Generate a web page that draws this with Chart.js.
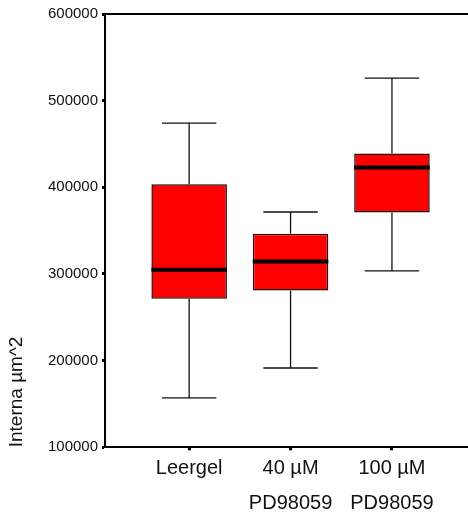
<!DOCTYPE html>
<html>
<head>
<meta charset="utf-8">
<title>Interna</title>
<script src="https://cdn.jsdelivr.net/npm/chart.js@4/dist/chart.umd.min.js"></script>
<style>
  body { margin: 0; background: #fff; }
  #wrap { width: 468px; height: 521px; }
</style>
</head>
<body>
<div id="wrap"><canvas id="boxChart"></canvas></div>
<script>
// groups on the x axis (second line = drug name)
const groups = ['Leergel', ['40 µM', 'PD98059'], ['100 µM', 'PD98059']];
const positions = [1, 2, 3];

// box plot statistics per group
const whiskerLow = [157000, 191500, 303500];
const q1 = [271500, 281000, 371000];
const median = [305000, 314500, 423000];
const q3 = [403500, 346500, 439000];
const whiskerHigh = [474000, 371500, 526000];

const yTicks = [100000, 200000, 300000, 400000, 500000, 600000];

const fontFamily = '"Liberation Sans", Arial, Helvetica, sans-serif';

// whiskers behind the boxes, median bars on top
const boxExtras = {
  id: 'boxExtras',
  beforeDatasetsDraw(chart) {
    const ctx = chart.ctx;
    const y = chart.scales.y;
    const bars = chart.getDatasetMeta(0).data;
    ctx.save();
    ctx.strokeStyle = '#111';
    ctx.lineWidth = 1.3;
    bars.forEach((bar, i) => {
      const cx = bar.x;
      const cap = bar.width * 0.36;
      const top = y.getPixelForValue(whiskerHigh[i]);
      const bot = y.getPixelForValue(whiskerLow[i]);
      ctx.beginPath();
      ctx.moveTo(cx, y.getPixelForValue(q3[i]));
      ctx.lineTo(cx, top);
      ctx.moveTo(cx - cap, top);
      ctx.lineTo(cx + cap, top);
      ctx.moveTo(cx, y.getPixelForValue(q1[i]));
      ctx.lineTo(cx, bot);
      ctx.moveTo(cx - cap, bot);
      ctx.lineTo(cx + cap, bot);
      ctx.stroke();
    });
    ctx.restore();
  },
  afterDatasetsDraw(chart) {
    const ctx = chart.ctx;
    const y = chart.scales.y;
    const bars = chart.getDatasetMeta(0).data;
    ctx.save();
    ctx.strokeStyle = '#000';
    ctx.lineWidth = 4;
    bars.forEach((bar, i) => {
      const m = y.getPixelForValue(median[i]);
      ctx.beginPath();
      ctx.moveTo(bar.x - bar.width / 2, m);
      ctx.lineTo(bar.x + bar.width / 2, m);
      ctx.stroke();
    });
    ctx.restore();
  }
};

const boxData = positions.map((p, i) => ({ x: p, y: [q1[i], q3[i]] }));

new Chart(document.getElementById('boxChart'), {
  type: 'bar',
  data: {
    datasets: [{
      data: boxData,
      backgroundColor: '#ff0000',
      borderColor: '#2a0000',
      borderWidth: 1.5,
      borderSkipped: false,
      barPercentage: 0.745,
      categoryPercentage: 1
    }]
  },
  options: {
    responsive: true,
    maintainAspectRatio: false,
    animation: false,
    layout: { padding: 0 },
    plugins: { legend: { display: false }, tooltip: { enabled: false } },
    scales: {
      x: {
        type: 'linear',
        position: 'bottom',
        min: 0.17,
        max: 3.75,
        offset: false,
        afterBuildTicks(scale) {
          scale.ticks = positions.map(v => ({ value: v }));
        },
        afterFit(scale) { scale.height = 73.7; },
        border: { display: true, color: '#000', width: 2 },
        grid: {
          offset: false,
          drawOnChartArea: false,
          drawTicks: true,
          tickLength: 3,
          tickWidth: 3,
          tickColor: '#000'
        },
        ticks: {
          padding: 1,
          maxRotation: 0,
          autoSkip: false,
          color: '#111',
          font: { family: fontFamily, size: 20, lineHeight: 1.75 },
          callback: (v) => groups[positions.indexOf(v)]
        }
      },
      x2: {
        type: 'linear',
        position: 'top',
        min: 0.17,
        max: 3.75,
        offset: false,
        afterFit(scale) { scale.height = 14; },
        border: { display: true, color: '#000', width: 2 },
        grid: { display: false },
        ticks: { display: false }
      },
      y: {
        min: 100000,
        max: 600000,
        afterBuildTicks(scale) {
          scale.ticks = yTicks.map(v => ({ value: v }));
        },
        afterFit(scale) { scale.width = 105; },
        border: { display: true, color: '#000', width: 2 },
        grid: {
          drawOnChartArea: false,
          drawTicks: true,
          tickLength: 3,
          tickWidth: 3,
          tickColor: '#000'
        },
        ticks: {
          padding: 4,
          color: '#111',
          font: { family: fontFamily, size: 15 },
          callback: (v) => String(v)
        },
        title: {
          display: true,
          text: 'Interna µm^2',
          align: 'start',
          color: '#111',
          padding: { top: 5 },
          font: { family: fontFamily, size: 19 }
        }
      }
    }
  },
  plugins: [boxExtras]
});
</script>
</body>
</html>
